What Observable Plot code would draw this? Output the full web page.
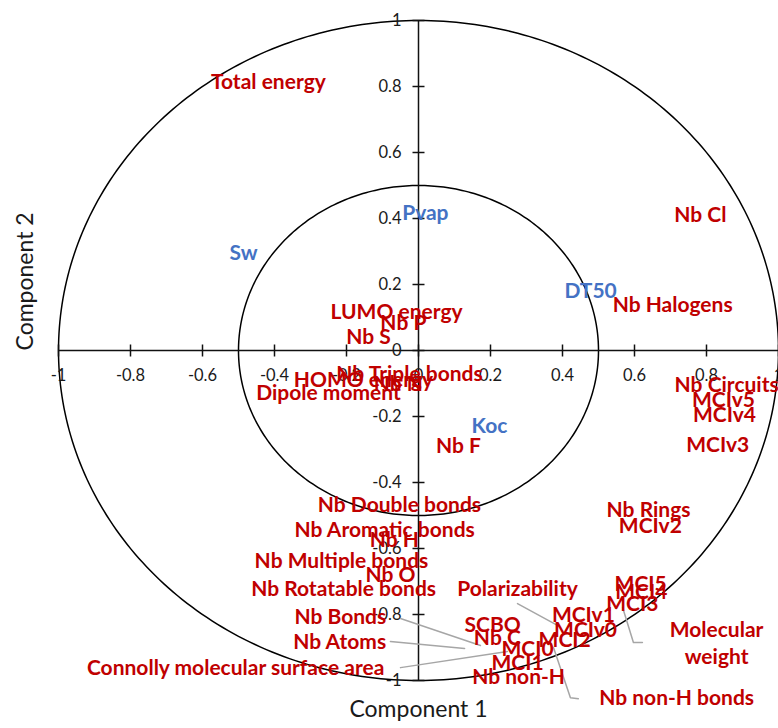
<!DOCTYPE html>
<html><head><meta charset="utf-8">
<script src="https://cdn.jsdelivr.net/npm/d3@7"></script>
<script src="https://cdn.jsdelivr.net/npm/@observablehq/plot@0.6"></script>
<style>body{margin:0;background:#fff;} svg{display:block;}</style>
</head><body><div id="chart"></div>
<script>
// Variable labels and their loadings on the two components
const labels = ["Total energy","Pvap","Sw","Nb Cl","DT50","Nb Halogens","LUMO energy","Nb P","Nb S",
  "Nb Triple bonds","HOMO energy","Nb N","Dipole moment","Nb Circuits","MCIv5","MCIv4","Koc","Nb F","MCIv3",
  "Nb Double bonds","Nb Rings","MCIv2","Nb Aromatic bonds","Nb H","Nb Multiple bonds","Nb O","Nb Rotatable bonds",
  "Polarizability","MCI5","MCI4","MCI3","MCIv1","Nb Bonds","SCBO","MCIv0","Nb C","MCI2","Nb Atoms",
  "Molecular\nweight","MCI0","MCI1","Connolly molecular surface area","Nb non-H","Nb non-H bonds"];
const comp1 = [-0.417,0.019,-0.486,0.783,0.478,0.706,-0.061,-0.042,-0.139,
  -0.025,-0.153,-0.056,-0.25,0.856,0.847,0.85,0.197,0.111,0.831,
  -0.053,0.639,0.644,-0.094,-0.067,-0.214,-0.078,-0.208,
  0.275,0.617,0.619,0.594,0.458,-0.217,0.206,0.464,0.219,0.406,-0.219,
  0.828,0.303,0.275,-0.508,0.278,0.717];
const comp2 = [0.812,0.415,0.294,0.409,0.179,0.136,0.115,0.082,0.039,
  -0.073,-0.091,-0.103,-0.13,-0.106,-0.152,-0.197,-0.23,-0.291,-0.288,
  -0.47,-0.485,-0.533,-0.545,-0.576,-0.639,-0.682,-0.724,
  -0.724,-0.709,-0.733,-0.77,-0.803,-0.809,-0.833,-0.848,-0.873,-0.879,-0.885,
  -0.888,-0.906,-0.948,-0.964,-0.991,-1.055];
const blueLabels = ["Pvap","Sw","DT50","Koc"];

// Leader lines (label end -> data point)
const leaderName = ["Nb Bonds","Nb Bonds","Nb Atoms","Nb Atoms","Connolly","Connolly",
  "Polarizability","Polarizability","Molecular weight","Molecular weight","Molecular weight",
  "Nb non-H bonds","Nb non-H bonds","Nb non-H bonds"];
const leaderX = [-0.05,0.172,-0.078,0.128,-0.05,0.247,0.275,0.386,0.567,0.597,0.622,0.375,0.422,0.444];
const leaderY = [-0.812,-0.894,-0.882,-0.903,-0.961,-0.912,-0.767,-0.833,-0.779,-0.885,-0.885,-0.9,-1.052,-1.055];

const xTicks = [-1,-0.8,-0.6,-0.4,-0.2,0,0.2,0.4,0.6,0.8,1];
const yTicks = [-1,-0.8,-0.6,-0.4,-0.2,0,0.2,0.4,0.6,0.8,1];
const circleRadii = [1, 0.5];

const points = labels.map((t, i) => ({label: t, x: comp1[i], y: comp2[i], blue: blueLabels.includes(t)}));
const leaders = leaderName.map((n, i) => ({name: n, x: leaderX[i], y: leaderY[i]}));
const circles = circleRadii.flatMap(r => d3.range(0, 361, 1).map(a => ({r, x: r * Math.cos(a * Math.PI / 180), y: r * Math.sin(a * Math.PI / 180)})));

const vTick = {draw(ctx) { ctx.moveTo(0, -6); ctx.lineTo(0, 6); }};
const hTick = {draw(ctx) { ctx.moveTo(-6, 0); ctx.lineTo(6, 0); }};

const chart = Plot.plot({
  width: 778, height: 728,
  marginLeft: 58, marginRight: 0, marginTop: 20, marginBottom: 48,
  style: {fontFamily: "Lato, 'Open Sans', sans-serif", background: "#fff"},
  x: {domain: [-1, 1], axis: null},
  y: {domain: [-1, 1], axis: null},
  marks: [
    Plot.line(circles, {x: "x", y: "y", z: "r", stroke: "#000", strokeWidth: 1.5}),
    Plot.ruleY([0], {stroke: "#111", strokeWidth: 1.5}),
    Plot.ruleX([0], {stroke: "#111", strokeWidth: 1.5}),
    Plot.dot(xTicks, {x: d => d, y: 0, symbol: vTick, stroke: "#111", fill: "none", strokeWidth: 1.5}),
    Plot.dot(yTicks, {x: 0, y: d => d, symbol: hTick, stroke: "#111", fill: "none", strokeWidth: 1.5}),
    Plot.text(xTicks, {x: d => d, y: 0, dy: 25, text: d => String(d), fontSize: 16.5, fill: "#1a1a1a"}),
    Plot.text(yTicks, {x: 0, y: d => d, dx: -17, textAnchor: "end", text: d => String(d), fontSize: 16.5, fill: "#1a1a1a"}),
    Plot.line(leaders, {x: "x", y: "y", z: "name", stroke: "#a6a6a6", strokeWidth: 1.5}),
    Plot.text(points, {x: "x", y: "y", dy: -2, text: "label", fill: d => d.blue ? "#4472C4" : "#C00000",
      fontSize: 21, fontWeight: "bold", lineHeight: 1.3}),
    Plot.text(["Component 1"], {frameAnchor: "bottom", dy: 36, fontSize: 23, fill: "#1a1a1a"}),
    Plot.text(["Component 2"], {frameAnchor: "left", dx: -33, rotate: -90, fontSize: 23, fill: "#1a1a1a"})
  ]
});
document.getElementById("chart").appendChild(chart);
</script>
</body></html>
